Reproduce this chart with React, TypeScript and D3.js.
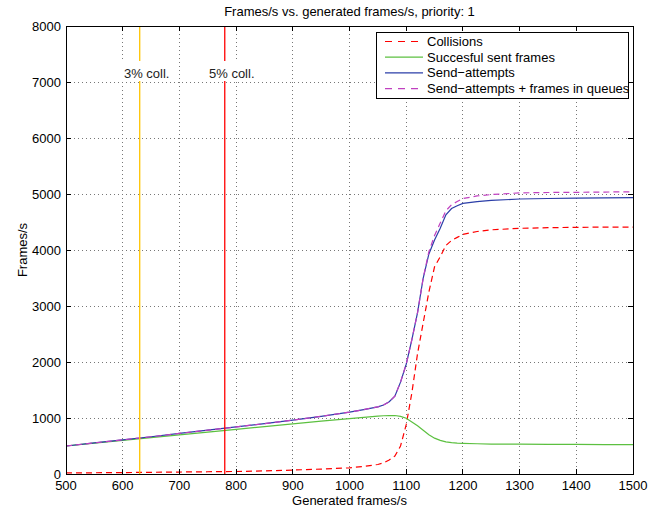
import React, { useRef, useEffect } from 'react'
import * as d3 from 'd3'

// generated frames/s (x values shared by every series)
const genRate = [500, 550, 600, 650, 700, 750, 800, 850, 900, 950, 1000, 1025, 1050, 1060, 1070, 1080, 1090, 1100, 1110, 1120, 1130, 1140, 1150, 1160, 1170, 1180, 1190, 1200, 1225, 1250, 1300, 1350, 1400, 1450, 1500]

const collisions = [20, 22, 25, 30, 35, 40, 45, 55, 70, 88, 110, 135, 170, 200, 250, 320, 500, 880, 1450, 2150, 2700, 3250, 3700, 3880, 4080, 4170, 4225, 4280, 4330, 4360, 4387, 4398, 4405, 4408, 4410]
const successful = [500, 550, 600, 650, 700, 748, 797, 847, 895, 943, 990, 1012, 1033, 1040, 1044, 1045, 1030, 995, 930, 860, 780, 700, 640, 600, 575, 560, 552, 548, 540, 535, 532, 530, 528, 526, 524]
const sendAttempts = [500, 555, 610, 665, 725, 782, 840, 900, 962, 1030, 1105, 1150, 1200, 1232, 1290, 1390, 1640, 1960, 2400, 2880, 3500, 3930, 4180, 4390, 4630, 4740, 4790, 4833, 4865, 4885, 4911, 4920, 4928, 4932, 4935]
const sendPlusQueues = [500, 555, 610, 665, 725, 782, 840, 900, 962, 1030, 1105, 1150, 1200, 1232, 1290, 1390, 1640, 1960, 2400, 2880, 3500, 3970, 4260, 4480, 4700, 4810, 4865, 4920, 4965, 4990, 5020, 5027, 5030, 5035, 5040]

const seriesNames = ['Collisions', 'Succesful sent frames', 'Send\u2212attempts', 'Send\u2212attempts + frames in queues']

const xTicks = [500, 600, 700, 800, 900, 1000, 1100, 1200, 1300, 1400, 1500]
const yTicks = [0, 1000, 2000, 3000, 4000, 5000, 6000, 7000, 8000]

const markerRates = [630, 780]
const markerLabels = ['3% coll.', '5% coll.']

export default function App() {
  const ref = useRef<SVGSVGElement>(null)

  const layout = { width: 662, height: 506, left: 66, right: 633, top: 26, bottom: 474 }

  useEffect(() => {
    document.body.style.margin = '0'
    const svg = d3.select(ref.current)
    svg.selectAll('*').remove()

    const font = '"Liberation Sans", Arial, Helvetica, sans-serif'

    const xScale = d3.scaleLinear().domain([500, 1500]).range([layout.left, layout.right])
    const yScale = d3.scaleLinear().domain([0, 8000]).range([layout.bottom, layout.top])

    svg.append('rect').attr('width', layout.width).attr('height', layout.height).attr('fill', 'white')

    // grid
    const grid = svg.append('g')
    grid.selectAll('.vgrid')
      .data(xTicks.slice(1, -1))
      .join('line')
      .attr('x1', d => xScale(d)).attr('x2', d => xScale(d))
      .attr('y1', layout.top).attr('y2', layout.bottom)
    grid.selectAll('.hgrid')
      .data(yTicks.slice(1, -1))
      .join('line')
      .attr('class', 'hgrid')
      .attr('x1', layout.left).attr('x2', layout.right)
      .attr('y1', d => yScale(d)).attr('y2', d => yScale(d))
    grid.selectAll('line')
      .attr('stroke', '#777')
      .attr('stroke-width', 1)
      .attr('stroke-dasharray', '1,3')
      .attr('shape-rendering', 'crispEdges')

    const series = [
      { values: collisions, color: '#ff0000', dash: '6,4' },
      { values: successful, color: '#5cc040', dash: null },
      { values: sendAttempts, color: '#2b3ea8', dash: null },
      { values: sendPlusQueues, color: '#c040c0', dash: '6,4' },
    ]

    const line = d3.line<number>()
      .x((d, i) => xScale(genRate[i]))
      .y(d => yScale(d))

    svg.selectAll('.series')
      .data(series)
      .join('path')
      .attr('class', 'series')
      .attr('d', d => line(d.values))
      .attr('fill', 'none')
      .attr('stroke', d => d.color)
      .attr('stroke-width', 1.2)
      .attr('stroke-dasharray', d => d.dash)

    // collision level markers
    const markerColors = ['#ffc400', '#ff0000']
    svg.selectAll('.marker')
      .data(markerRates)
      .join('line')
      .attr('class', 'marker')
      .attr('x1', d => xScale(d)).attr('x2', d => xScale(d))
      .attr('y1', layout.top).attr('y2', layout.bottom)
      .attr('stroke', (d, i) => markerColors[i])
      .attr('stroke-width', 1.3)

    svg.selectAll('.marker-bg')
      .data(markerRates)
      .join('rect')
      .attr('class', 'marker-bg')
      .attr('x', d => xScale(d) + 7 - 25)
      .attr('y', 61)
      .attr('width', 50)
      .attr('height', 20)
      .attr('fill', 'white')

    svg.selectAll('.marker-text')
      .data(markerRates)
      .join('text')
      .attr('class', 'marker-text')
      .attr('x', d => xScale(d) + 7)
      .attr('y', 77.5)
      .attr('text-anchor', 'middle')
      .attr('font-family', font)
      .attr('font-size', 13)
      .attr('fill', '#222')
      .text((d, i) => markerLabels[i])

    // box + ticks
    const axes = svg.append('g').attr('stroke', 'black').attr('stroke-width', 1).attr('shape-rendering', 'crispEdges')
    axes.append('rect')
      .attr('x', layout.left).attr('y', layout.top)
      .attr('width', layout.right - layout.left).attr('height', layout.bottom - layout.top)
      .attr('fill', 'none')
    const tl = 5
    xTicks.forEach(t => {
      axes.append('line').attr('x1', xScale(t)).attr('x2', xScale(t)).attr('y1', layout.bottom).attr('y2', layout.bottom - tl)
      axes.append('line').attr('x1', xScale(t)).attr('x2', xScale(t)).attr('y1', layout.top).attr('y2', layout.top + tl)
    })
    yTicks.forEach(t => {
      axes.append('line').attr('x1', layout.left).attr('x2', layout.left + tl).attr('y1', yScale(t)).attr('y2', yScale(t))
      axes.append('line').attr('x1', layout.right).attr('x2', layout.right - tl).attr('y1', yScale(t)).attr('y2', yScale(t))
    })

    svg.selectAll('.xlab')
      .data(xTicks)
      .join('text')
      .attr('class', 'xlab')
      .attr('x', d => xScale(d))
      .attr('y', 490)
      .attr('text-anchor', 'middle')
      .attr('font-family', font)
      .attr('font-size', 13)
      .text(d => d)

    svg.selectAll('.ylab')
      .data(yTicks)
      .join('text')
      .attr('class', 'ylab')
      .attr('x', layout.left - 5)
      .attr('y', d => yScale(d) + 4.5)
      .attr('text-anchor', 'end')
      .attr('font-family', font)
      .attr('font-size', 13)
      .text(d => d)

    svg.append('text')
      .attr('x', (layout.left + layout.right) / 2)
      .attr('y', 504.5)
      .attr('text-anchor', 'middle')
      .attr('font-family', font)
      .attr('font-size', 13)
      .text('Generated frames/s')

    svg.append('text')
      .attr('transform', `translate(27, ${(layout.top + layout.bottom) / 2}) rotate(-90)`)
      .attr('text-anchor', 'middle')
      .attr('font-family', font)
      .attr('font-size', 13)
      .text('Frames/s')

    svg.append('text')
      .attr('x', (layout.left + layout.right) / 2)
      .attr('y', 16)
      .attr('text-anchor', 'middle')
      .attr('font-family', font)
      .attr('font-size', 13)
      .text('Frames/s vs. generated frames/s, priority: 1')

    // legend
    const legend = svg.append('g').attr('transform', 'translate(376, 32)')
    legend.append('rect')
      .attr('width', 252).attr('height', 66)
      .attr('fill', 'white').attr('stroke', 'black').attr('stroke-width', 1)
      .attr('shape-rendering', 'crispEdges')
    legend.selectAll('.lg-line')
      .data(series)
      .join('line')
      .attr('class', 'lg-line')
      .attr('x1', 9).attr('x2', 47)
      .attr('y1', (d, i) => 9.5 + i * 15.7).attr('y2', (d, i) => 9.5 + i * 15.7)
      .attr('stroke', d => d.color)
      .attr('stroke-width', 1.2)
      .attr('stroke-dasharray', d => d.dash ? '7,6' : null)
    legend.selectAll('.lg-text')
      .data(seriesNames)
      .join('text')
      .attr('class', 'lg-text')
      .attr('x', 51)
      .attr('y', (d, i) => 14 + i * 15.7)
      .attr('font-family', font)
      .attr('font-size', 13)
      .text(d => d)
  }, [])

  return (
    <svg width={layout.width} height={layout.height} ref={ref} style={{ display: 'block' }} />
  )
}
